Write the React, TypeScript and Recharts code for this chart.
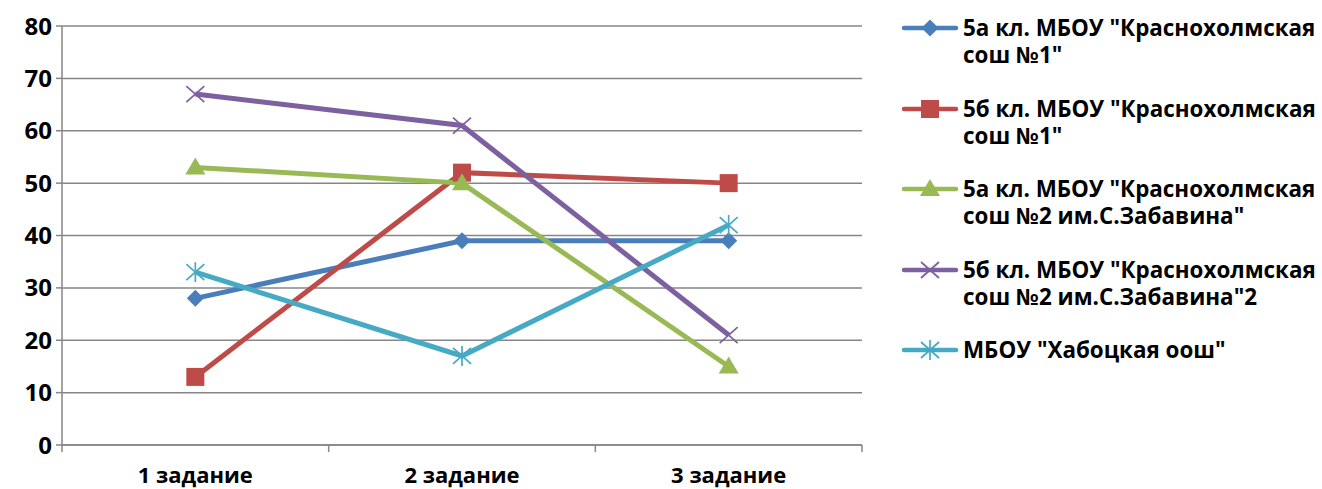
import React from 'react';
import { LineChart, Line, XAxis, YAxis, CartesianGrid } from 'recharts';

// categories and series
const TASKS = ['1 задание', '2 задание', '3 задание'];
const SCHOOL_5A_1 = [28, 39, 39];
const SCHOOL_5B_1 = [13, 52, 50];
const SCHOOL_5A_2 = [53, 50, 15];
const SCHOOL_5B_2 = [67, 61, 21];
const KHABOTSKAYA = [33, 17, 42];
const Y_TICKS = [0, 10, 20, 30, 40, 50, 60, 70, 80];

const SERIES = [
  { key: 's1', name: '5а кл. МБОУ "Краснохолмская\nсош №1"', values: SCHOOL_5A_1, color: '#4A7EBB', marker: 'diamond' },
  { key: 's2', name: '5б кл. МБОУ "Краснохолмская\nсош №1"', values: SCHOOL_5B_1, color: '#BE4B48', marker: 'square' },
  { key: 's3', name: '5а кл. МБОУ "Краснохолмская\nсош №2 им.С.Забавина"', values: SCHOOL_5A_2, color: '#98B954', marker: 'triangle' },
  { key: 's4', name: '5б кл. МБОУ "Краснохолмская\nсош №2 им.С.Забавина"2', values: SCHOOL_5B_2, color: '#7D60A0', marker: 'cross' },
  { key: 's5', name: 'МБОУ "Хабоцкая оош"', values: KHABOTSKAYA, color: '#46AAC5', marker: 'star' },
];

const data = TASKS.map((task, i) => {
  const row: Record<string, string | number> = { task };
  SERIES.forEach((s) => {
    row[s.key] = s.values[i];
  });
  return row;
});

const FONT = '"Open Sans", sans-serif';
const AXIS = '#868686';
const W = 1322;
const H = 489;
const MARGIN = { top: 26, right: 460, bottom: 0, left: 0 };
const Y_WIDTH = 62;
// half of one category band, used for the Excel-style tick marks between categories
const HALF_BAND = (W - MARGIN.right - MARGIN.left - Y_WIDTH) / TASKS.length / 2;

function Marker({ type, cx, cy, color }: { type: string; cx: number; cy: number; color: string }) {
  switch (type) {
    case 'diamond':
      return <polygon points={`${cx},${cy - 8.5} ${cx + 8.5},${cy} ${cx},${cy + 8.5} ${cx - 8.5},${cy}`} fill={color} />;
    case 'square':
      return <rect x={cx - 9} y={cy - 9} width={18} height={18} fill={color} />;
    case 'triangle':
      return <polygon points={`${cx},${cy - 10} ${cx + 10},${cy + 7} ${cx - 10},${cy + 7}`} fill={color} />;
    case 'cross':
      return (
        <g stroke={color} strokeWidth={1.7}>
          <line x1={cx - 9} y1={cy - 8} x2={cx + 9} y2={cy + 8} />
          <line x1={cx - 9} y1={cy + 8} x2={cx + 9} y2={cy - 8} />
        </g>
      );
    default:
      return (
        <g stroke={color} strokeWidth={1.7}>
          <line x1={cx - 9} y1={cy - 8} x2={cx + 9} y2={cy + 8} />
          <line x1={cx - 9} y1={cy + 8} x2={cx + 9} y2={cy - 8} />
          <line x1={cx} y1={cy - 10} x2={cx} y2={cy + 10} />
        </g>
      );
  }
}

function TaskTick({ x, y, payload, index }: any) {
  const last = index === TASKS.length - 1;
  return (
    <g>
      <line x1={x - HALF_BAND} y1={y} x2={x - HALF_BAND} y2={y + 7} stroke={AXIS} strokeWidth={1.5} />
      {last && <line x1={x + HALF_BAND} y1={y} x2={x + HALF_BAND} y2={y + 7} stroke={AXIS} strokeWidth={1.5} />}
      <text x={x} y={y + 38} textAnchor="middle" fill="#000" fontFamily={FONT} fontWeight={700} fontSize={22}>
        {payload.value}
      </text>
    </g>
  );
}

function ChartLegend() {
  return (
    <div
      style={{
        position: 'absolute',
        left: 900,
        top: 14,
        fontFamily: FONT,
        fontWeight: 700,
        fontSize: 22.4,
        lineHeight: '27px',
        color: '#000',
      }}
    >
      {SERIES.map((s) => (
        <div key={s.key} style={{ display: 'flex', alignItems: 'flex-start', marginBottom: 26.5 }}>
          <svg width={63} height={27} style={{ flex: 'none' }}>
            <line x1={4} y1={14} x2={56} y2={14} stroke={s.color} strokeWidth={4.5} strokeLinecap="round" />
            <Marker type={s.marker} cx={30} cy={14} color={s.color} />
          </svg>
          <span style={{ whiteSpace: 'pre-line' }}>{s.name}</span>
        </div>
      ))}
    </div>
  );
}

export default function App() {
  return (
    <div style={{ position: 'fixed', left: 0, top: 0, width: W, height: H, background: '#fff' }}>
      <LineChart width={W} height={H} data={data} margin={MARGIN}>
        <CartesianGrid vertical={false} stroke={AXIS} strokeWidth={1.5} />
        <XAxis
          dataKey="task"
          height={44}
          padding={{ left: HALF_BAND, right: HALF_BAND }}
          axisLine={{ stroke: AXIS, strokeWidth: 1.5 }}
          tickLine={false}
          tickSize={0}
          tickMargin={0}
          tick={<TaskTick />}
        />
        <YAxis
          domain={[0, 80]}
          ticks={Y_TICKS}
          width={Y_WIDTH}
          axisLine={{ stroke: AXIS, strokeWidth: 1.5 }}
          tickLine={{ stroke: AXIS, strokeWidth: 1.5 }}
          tickSize={6}
          tickMargin={4}
          tick={{ fill: '#000', fontFamily: FONT, fontWeight: 700, fontSize: 24 }}
        />
        {SERIES.map((s) => (
          <Line
            key={s.key}
            dataKey={s.key}
            name={s.name}
            stroke={s.color}
            strokeWidth={5}
            isAnimationActive={false}
            dot={(p: any) => <Marker key={`${s.key}-${p.index}`} type={s.marker} cx={p.cx} cy={p.cy} color={s.color} />}
            activeDot={false}
          />
        ))}
      </LineChart>
      <ChartLegend />
    </div>
  );
}
